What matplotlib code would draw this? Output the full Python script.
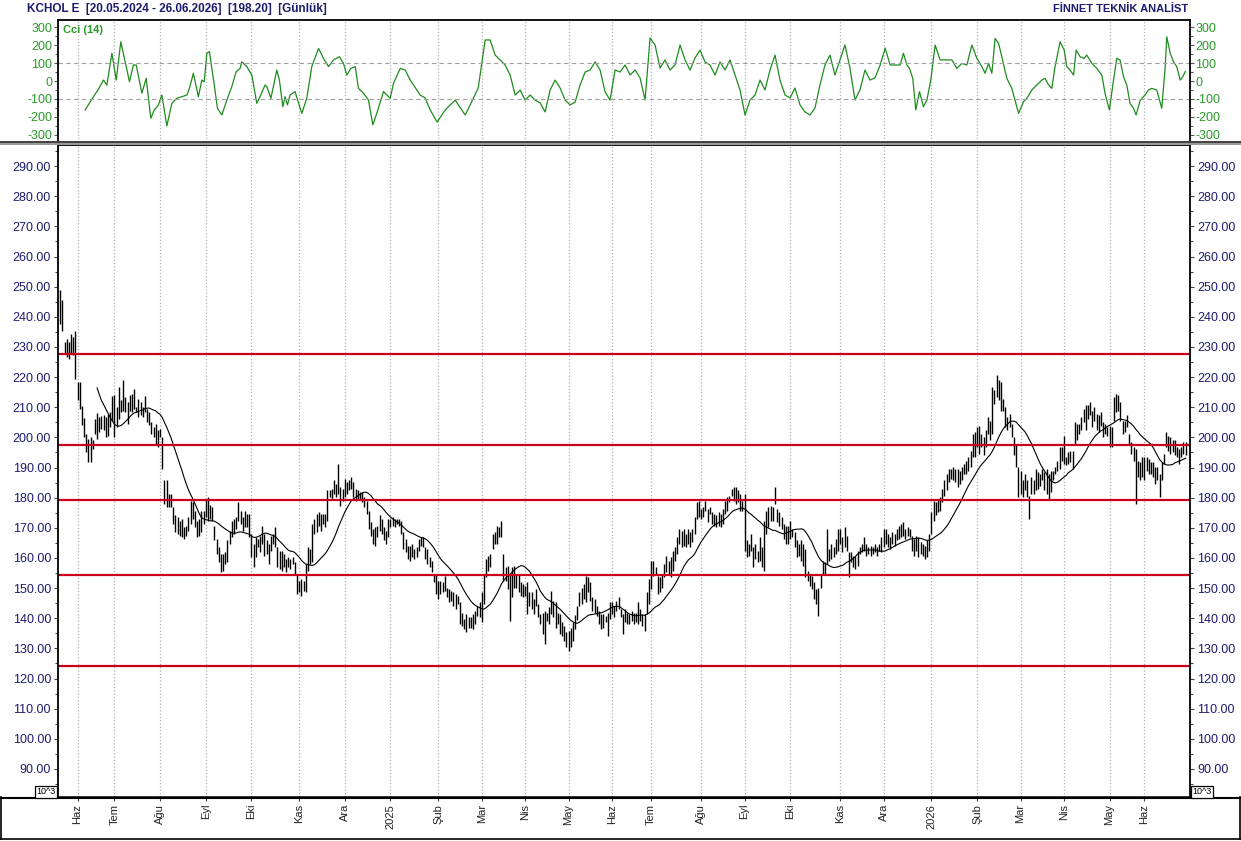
import numpy as np
import pandas as pd
import matplotlib.pyplot as plt
from matplotlib.patches import Rectangle
from matplotlib.lines import Line2D
from matplotlib.ticker import MultipleLocator

plt.rcParams['font.family'] = ['Liberation Sans', 'DejaVu Sans']
plt.rcParams['axes.unicode_minus'] = False

# daily high / low
high = [249.0, 245.5, 231.6, 232.7, 231.6, 234.4, 233.3, 235.2, 218.4, 218.4,
        210.3, 206.4, 201.2, 199.5, 200.1, 199.2, 206.2, 208.2, 206.7, 207.1,
        207.3, 206.7, 207.8, 208.4, 213.6, 213.9, 210.0, 216.7, 212.3, 218.9,
        213.4, 211.7, 213.9, 214.5, 216.1, 210.0, 212.8, 211.7, 210.0, 213.6,
        209.5, 208.4, 205.1, 203.4, 204.5, 202.3, 202.8, 200.1, 185.9, 185.9,
        181.3, 181.3, 176.8, 174.1, 173.7, 172.4, 172.9, 170.2, 170.7, 173.5,
        179.0, 178.5, 175.7, 172.4, 172.9, 175.7, 175.7, 179.6, 180.2, 177.7,
        176.8, 170.7, 166.3, 163.5, 161.3, 161.3, 161.9, 165.8, 169.1, 172.4,
        172.9, 173.5, 178.5, 175.7, 173.5, 175.7, 174.6, 174.6, 168.0, 164.6,
        166.9, 166.3, 167.4, 170.7, 168.0, 165.8, 164.6, 167.4, 168.0, 170.2,
        163.5, 162.4,
        162.4, 161.3, 159.7, 160.2, 159.7, 160.2, 158.6, 154.7, 152.5, 153.0,
        152.5, 158.0, 163.5, 163.0, 171.3, 172.9, 174.6, 175.2, 174.6, 174.6,
        174.6, 182.4, 182.4, 182.9, 185.7, 184.6, 191.2, 183.5, 182.9, 186.2,
        185.1, 185.7, 186.8, 185.1, 182.9, 182.4, 181.8, 181.8, 180.2, 179.0,
        175.7, 171.8, 169.6, 170.2, 170.7, 174.1, 172.9, 170.2, 169.1, 172.9,
        172.9, 173.5, 172.9, 172.9, 172.9, 172.4, 168.5, 166.3, 164.1, 164.1,
        164.6, 163.0, 163.5, 166.3, 166.9, 166.9, 163.5, 163.0, 160.2, 159.1,
        154.7, 154.7, 152.5, 152.5, 151.9, 154.1, 150.2, 149.7, 149.1, 148.6,
        148.0, 147.5, 145.3, 141.9, 139.7, 141.4, 140.3, 140.3, 141.4, 142.5,
        144.2, 145.3, 148.6, 154.7, 159.7, 160.8, 161.3, 168.0, 168.5, 170.7,
        170.2, 172.4, 161.3, 156.9,
        157.4, 154.7, 156.9, 157.4, 154.7, 154.7, 151.9, 151.4, 150.8, 151.9,
        148.6, 148.6, 146.4, 149.7, 144.7, 141.4, 141.9, 142.5, 141.9, 143.6,
        149.1, 145.8, 145.3, 141.9, 141.4, 138.6, 137.5, 135.3, 135.8, 136.9,
        138.6, 141.0, 144.0, 148.6, 150.2, 151.4, 154.1, 153.6, 151.9, 146.9,
        146.4, 144.2, 142.5, 141.4, 141.4, 140.8, 141.9, 145.3, 145.3, 144.2,
        145.8, 146.9, 143.1, 141.4, 143.1, 141.9, 141.4, 142.5, 141.9, 141.9,
        145.3, 143.1, 141.4, 141.4, 148.6, 153.0, 159.1, 159.1, 156.9, 154.1,
        153.6, 154.7, 158.0, 160.8, 159.1, 160.2, 162.4, 163.5, 166.9, 169.6,
        169.1, 169.6, 168.0, 169.6, 168.5, 169.6, 173.5, 178.5, 179.0, 176.3,
        176.8, 179.0, 176.3, 176.8, 175.2, 174.6, 174.1, 175.2, 174.6, 176.3,
        179.0, 180.2, 180.7, 182.9,
        183.5, 183.5, 182.4, 181.3, 179.0, 181.3, 165.8, 164.6, 168.0, 163.5,
        164.6, 162.4, 166.9, 163.5, 172.4, 175.7, 176.8, 177.4, 176.8, 183.5,
        176.3, 175.2, 173.5, 171.3, 170.7, 170.7, 172.4, 169.6, 168.5, 165.8,
        164.6, 165.8, 164.6, 163.0, 155.8, 154.7, 154.1, 151.9, 149.7, 150.2,
        154.7, 159.1, 158.6, 169.6, 163.0, 164.6, 163.5, 166.3, 169.6, 169.6,
        166.9, 170.2, 167.4, 161.9, 161.9, 160.8, 160.8, 162.4, 163.5, 164.6,
        166.9, 164.6, 163.5, 164.1, 163.5, 164.6, 163.5, 164.6, 166.9, 169.6,
        169.6, 168.0, 166.9, 168.5, 168.0, 169.6, 170.7, 171.3, 171.8, 169.6,
        170.2, 169.6, 167.4, 166.3, 167.4, 166.9, 165.2, 164.6, 164.1, 165.8,
        168.0, 175.2, 179.0, 178.5, 179.6, 180.2, 182.9, 185.7, 187.9, 189.6,
        189.6, 190.1, 189.6, 189.6,
        189.0, 190.1, 191.2, 192.3, 193.4, 195.6, 201.2, 201.7, 203.4, 203.9,
        201.2, 200.1, 202.3, 206.7, 205.6, 216.7, 215.6, 220.6, 218.9, 218.4,
        212.8, 210.0, 206.7, 207.8, 204.5, 200.1, 197.9, 190.1, 189.0, 185.7,
        187.9, 185.7, 180.7, 186.8, 185.7, 189.6, 188.5, 187.9, 189.6, 188.5,
        189.6, 187.9, 189.0, 189.0, 190.1, 192.3, 196.8, 196.8, 200.6, 193.4,
        195.1, 195.6, 195.6, 205.1, 204.5, 204.5, 206.7, 209.5, 210.6, 210.6,
        211.7, 208.9, 210.0, 207.8, 207.3, 208.4, 205.1, 204.5, 203.4, 203.9,
        203.4, 213.4, 214.5, 213.9, 211.7, 205.6, 205.6, 207.3, 201.2, 198.4,
        196.8, 196.2, 192.3, 191.8, 193.4, 193.4, 193.4, 192.8, 191.8, 191.8,
        190.1, 190.1, 187.9, 191.8, 194.5, 201.7, 200.6, 200.1, 199.0, 199.0,
        196.8, 196.2, 196.8, 198.4, 198.4]

low = [237.7, 235.3, 227.8, 226.7, 226.1, 227.8, 227.2, 219.5, 212.3, 209.5,
       204.0, 200.1, 195.1, 191.8, 191.8, 196.2, 201.2, 199.5, 201.7, 202.8,
       202.3, 200.1, 200.6, 203.4, 205.6, 200.1, 203.4, 206.2, 208.4, 208.9,
       208.4, 204.5, 208.9, 208.4, 209.5, 208.4, 206.7, 207.3, 206.7, 208.4,
       205.1, 204.0, 201.2, 200.1, 197.9, 196.8, 200.1, 189.6, 177.9, 176.8,
       177.0, 177.0, 171.3, 168.5, 168.0, 167.4, 166.9, 166.3, 167.4, 169.1,
       171.3, 172.9, 170.2, 166.9, 167.4, 168.5, 171.3, 173.5, 172.4, 172.9,
       172.4, 165.8, 161.3, 158.6, 155.2, 155.8, 158.0, 158.6, 164.6, 166.9,
       168.0, 169.6, 172.4, 171.3, 169.1, 170.2, 170.2, 166.9, 160.2, 156.9,
       160.2, 163.5, 161.9, 164.6, 160.8, 161.3, 158.0, 162.4, 164.6, 163.5,
       156.9, 156.3,
       155.8, 156.9, 155.2, 156.9, 156.3, 158.0, 154.7, 148.0, 148.6, 147.5,
       149.1, 148.6, 155.8, 158.0, 158.6, 168.0, 168.5, 170.7, 169.1, 171.3,
       170.2, 172.4, 180.2, 179.6, 181.3, 180.2, 181.3, 177.4, 179.0, 180.2,
       181.3, 182.4, 182.9, 180.2, 179.0, 179.6, 179.6, 178.5, 176.8, 174.6,
       169.6, 167.4, 164.6, 164.1, 166.9, 169.1, 168.0, 165.8, 164.6, 166.9,
       170.2, 170.7, 170.2, 171.3, 170.7, 168.0, 163.0, 161.9, 159.7, 159.1,
       160.2, 159.7, 160.2, 162.4, 164.1, 163.5, 159.7, 158.0, 156.9, 155.2,
       151.9, 148.0, 146.4, 148.0, 148.6, 149.1, 146.9, 145.3, 145.8, 144.2,
       143.1, 144.7, 138.1, 137.5, 136.4, 135.3, 136.9, 136.9, 136.4, 138.1,
       140.8, 140.3, 138.6, 144.7, 153.6, 155.8, 156.9, 163.0, 164.6, 164.6,
       166.9, 166.9, 152.5, 152.5,
       149.7, 139.2, 147.0, 150.2, 150.2, 148.6, 147.5, 147.0, 147.5, 141.4,
       144.2, 143.1, 141.4, 144.2, 140.3, 138.1, 134.7, 131.4, 139.2, 138.1,
       141.4, 140.3, 136.9, 138.1, 134.7, 134.2, 132.5, 130.3, 129.2, 130.3,
       132.5, 136.5, 139.5, 144.2, 144.7, 146.4, 145.3, 148.6, 145.8, 142.5,
       141.9, 140.8, 138.1, 136.4, 136.9, 138.6, 134.2, 139.7, 141.4, 140.3,
       142.5, 143.1, 140.3, 134.7, 138.6, 138.1, 138.1, 139.2, 138.1, 138.6,
       138.1, 139.2, 137.5, 135.8, 141.4, 144.7, 149.7, 154.1, 154.7, 148.0,
       148.6, 150.2, 153.6, 155.2, 154.7, 153.6, 155.8, 159.1, 161.3, 164.6,
       163.5, 164.1, 163.5, 164.6, 163.5, 165.2, 168.0, 172.9, 173.5, 172.9,
       173.5, 175.7, 171.8, 174.6, 171.3, 170.7, 170.2, 170.7, 170.2, 171.3,
       174.6, 175.7, 178.5, 180.7,
       179.0, 177.9, 178.5, 175.7, 175.7, 162.4, 160.2, 160.8, 162.4, 156.9,
       159.7, 158.6, 159.1, 156.9, 155.8, 168.0, 170.2, 172.4, 172.4, 177.9,
       171.8, 170.7, 169.6, 166.3, 164.6, 164.6, 166.3, 166.9, 163.5, 160.2,
       160.8, 159.1, 157.4, 153.6, 152.5, 150.8, 149.7, 146.4, 144.7, 140.8,
       150.2, 154.7, 154.7, 158.0, 159.1, 159.7, 160.2, 161.3, 162.4, 164.6,
       161.9, 163.5, 162.4, 153.6, 158.6, 156.9, 156.3, 157.4, 161.3, 161.9,
       162.4, 160.8, 161.3, 160.8, 161.3, 161.9, 160.8, 162.4, 161.9, 163.5,
       164.6, 163.5, 163.0, 164.6, 164.1, 165.8, 166.3, 166.9, 167.4, 166.3,
       167.4, 166.9, 162.4, 160.8, 162.4, 160.2, 161.3, 160.8, 159.7, 160.2,
       162.4, 168.0, 172.4, 174.1, 175.2, 175.7, 178.5, 180.7, 182.4, 185.1,
       186.2, 185.7, 185.1, 183.5,
       184.6, 185.7, 187.9, 187.9, 189.0, 190.1, 193.4, 193.4, 196.8, 194.5,
       196.8, 194.0, 196.8, 201.2, 199.0, 201.2, 211.2, 213.4, 212.3, 208.9,
       208.9, 203.4, 202.3, 203.4, 200.1, 194.0, 190.1, 180.2, 181.3, 180.2,
       182.4, 180.2, 172.9, 181.3, 181.3, 182.4, 182.9, 184.0, 185.7, 182.4,
       181.3, 179.6, 181.8, 185.7, 187.9, 189.0, 189.6, 192.3, 191.2, 190.7,
       191.2, 191.8, 189.6, 197.9, 199.0, 201.2, 202.3, 205.1, 202.3, 206.2,
       207.3, 203.4, 205.6, 202.3, 201.7, 203.9, 200.1, 201.2, 200.6, 196.8,
       196.8, 205.6, 208.4, 208.9, 205.6, 201.2, 201.7, 203.4, 197.4, 194.5,
       192.3, 177.9, 186.8, 185.7, 186.8, 185.7, 189.0, 187.9, 187.9, 186.8,
       184.6, 185.7, 180.2, 185.7, 191.2, 196.8, 195.6, 194.5, 195.1, 194.0,
       193.4, 191.2, 193.4, 194.5, 194.0]

# CCI(14) read at bar positions
cci_bar = [11.5, 15.3, 17.6, 19.9, 21.5, 23.8, 25.8, 27.9, 29.9, 31.9,
           33.7, 35.0, 37.6, 39.6, 41.7, 43.3, 45.2, 46.8, 49.1, 51.4,
           53.7, 56.0, 58.3, 59.5, 61.3, 63.6, 65.2, 66.3, 67.5, 68.7,
           70.6, 72.4, 74.4, 76.7, 79.0, 81.0, 82.8, 83.6, 85.9, 88.2,
           90.5, 92.0, 94.3, 95.1, 97.0, 99.7, 100.9, 102.5, 103.5, 104.6,
           105.8, 108.1, 111.2, 113.5, 115.8, 118.9, 121.2, 123.5, 125.8, 128.5,
           130.4, 131.9, 133.8, 135.8, 137.3, 139.6, 141.9, 143.9, 145.7, 148.8,
           151.9, 153.4, 156.5,
           158.8, 161.1, 165.7, 168.0, 170.3, 173.5, 177.2, 181.8, 186.4, 188.7,
           192.4, 195.6, 197.9, 200.2, 202.5, 204.8, 207.1, 209.4, 211.7, 214.0,
           216.3, 218.6, 220.9, 223.2, 225.5, 227.8, 230.1, 232.4, 234.7, 237.0,
           239.3, 241.6, 243.9, 246.2, 248.5, 250.8, 253.1, 255.4, 257.7, 260.0,
           262.3, 264.6, 266.9, 269.2, 271.5, 273.8, 276.1, 278.4, 280.7, 283.0,
           285.3, 287.6, 289.9, 292.2, 294.5, 296.8, 299.1, 301.4, 303.7, 306.0,
           308.3, 310.6, 312.9, 315.2, 317.5, 319.8, 322.1, 324.4, 326.7, 329.0,
           331.3, 333.6, 335.9, 338.2, 340.5, 342.8, 345.1, 347.4, 349.7, 352.0,
           354.3, 356.6, 358.9, 361.2, 363.5, 365.8, 368.1, 370.4, 372.7, 375.0,
           377.4, 379.7, 382.0,
           386.6, 388.1, 389.7, 390.9, 392.4, 393.8, 395.5, 397.3, 398.9, 400.7,
           402.7, 405.0, 407.3, 410.4, 412.7, 415.0, 417.3, 419.6, 421.9, 424.2,
           425.7, 427.3, 428.8, 430.3, 431.9, 433.4, 435.7, 438.0, 441.1, 443.4,
           444.9, 447.2, 449.5, 451.8, 453.3, 454.9, 456.4, 457.9, 460.2, 462.1,
           463.3, 464.8, 466.4, 467.6, 469.4, 471.3, 472.5, 474.8, 477.1, 479.4,
           480.9, 482.9, 484.8, 486.3, 487.8, 489.4, 490.9, 492.4, 494.0, 495.2,
           497.1, 499.3, 500.9, 502.4, 504.7, 507.0, 508.6, 509.3, 510.9, 512.4,
           513.9, 515.5, 516.7, 517.8]
cci_val = [-161, -87, -46, 5, -22, 154, 5, 218, 107, -4,
           89, 89, -68, 15, -207, -161, -133, -78, -250, -124,
           -96, -87, -78, -41, 43, -87, 5, -4, 154, 163,
           5, -152, -189, -106, -31, 52, 70, 107, 80, 33,
           -124, -87, -22, -31, -96, 61, 5, -143, -87, -133,
           -78, -59, -180, -96, 80, 181, 126, 80, 117, 135,
           98, 33, 70, 80, -41, -68, -106, -244, -180, -59,
           -96, -13, 70,
           61, 5, -78, -94, -161, -228, -161, -106, -189, -133,
           -39, 228, 228, 144, 117, 89, 33, -78, -50, -106,
           -78, -106, -122, -172, -50, 5, -39, -106, -133, -117,
           -22, 50, 61, 106, 61, -61, -106, 61, 50, 89,
           33, 61, 17, -106, 239, 200, 72, 117, 61, 89,
           200, 117, 61, 128, 172, 106, 89, 33, 106, 61,
           117, 33, -50, -189, -106, -78, 5, -50, 61, 144,
           5, -78, -94, -39, -133, -172, -189, -150, -22, 89,
           144, 33, 117, 200, 72, -106, -50, 61, 5, 17,
           89, 183, 89,
           89, 154, 89, 70, 15, -161, -59, -143, -106, 5,
           200, 117, 117, 117, 70, 98, 89, 200, 126, 80,
           43, 98, 43, 237, 209, 135, 15, -41, -180, -115,
           -96, -50, -22, 5, 15, -22, -41, 80, 218, 172,
           80, 61, 33, 172, 135, 126, 144, 98, 70, 33,
           -68, -161, 5, 126, 117, 24, -22, -124, -152, -189,
           -106, -78, -50, -41, -50, -152, 80, 246, 154, 107,
           80, 5, 24, 52]

# first bar of each month
month_bar = [8, 25, 46, 67, 88, 110, 131, 152, 174, 194, 214, 234, 254,
             272, 295, 315, 336, 359, 379, 401, 422, 442, 462, 483, 499]
month_lbl = ['Haz', 'Tem', 'Ağu', 'Eyl', 'Eki', 'Kas', 'Ara', '2025', 'Şub',
             'Mar', 'Nis', 'May', 'Haz', 'Tem', 'Ağu', 'Eyl', 'Eki', 'Kas',
             'Ara', '2026', 'Şub', 'Mar', 'Nis', 'May', 'Haz']

levels = [227.7, 197.4, 179.2, 154.2, 124.3]

navy = '#1c1c6e'
green = '#2a9a2a'

high = np.array(high)
low = np.array(low)
x = np.arange(len(high))
ma = pd.Series((high + low) / 2).rolling(18).mean()

W, H = 1241, 841
fig = plt.figure(figsize=(W / 100, H / 100), dpi=100)
fig.patch.set_facecolor('white')

ax_c = fig.add_axes([58 / W, 1 - 142 / H, 1132 / W, 122 / H])
ax = fig.add_axes([58 / W, 1 - 797 / H, 1132 / W, 652 / H])

# --- CCI panel
ax_c.plot(cci_bar, cci_val, color='#1e8c1e', lw=0.9)
ax_c.axhline(100, color='#a0a0a0', ls=(0, (4, 3)), lw=0.8)
ax_c.axhline(-100, color='#a0a0a0', ls=(0, (4, 3)), lw=0.8)
ax_c.set_ylim(-339, 339)
ax_c.set_xlim(-1, 520)
ax_c.set_yticks([-300, -200, -100, 0, 100, 200, 300])
ax_c.yaxis.set_minor_locator(MultipleLocator(50))
ax_c.set_xticks(month_bar)
ax_c.tick_params(axis='x', length=0, labelbottom=False)
ax_c.grid(axis='x', color='#b0b0b0', ls=':', lw=0.9)
ax_c.tick_params(axis='y', which='both', left=True, right=True, labelleft=True,
                 labelright=True, labelsize=9, labelcolor=green, color='#555',
                 length=3, width=0.8, pad=1)
ax_c.tick_params(axis='y', which='minor', length=2)
ax_c.text(0.004, 0.955, 'Cci (14)', transform=ax_c.transAxes, color=green,
          fontsize=8, fontweight='bold', va='top', ha='left')
for s in ax_c.spines.values():
    s.set_linewidth(1.3)

# --- price panel
ax.vlines(x, low, high, color='black', lw=1.0)
ax.plot(x, ma, color='black', lw=0.8)
for lv in levels:
    ax.axhline(lv, color='#c8001e', lw=1.6)
ax.set_ylim(80.7, 297)
ax.set_xlim(-1, 520)
ax.set_yticks(np.arange(90, 291, 10))
ax.set_yticklabels(['%.2f' % v for v in np.arange(90, 291, 10)])
ax.yaxis.set_minor_locator(MultipleLocator(5))
ax.tick_params(axis='y', which='both', left=True, right=True, labelleft=True,
               labelright=True, labelsize=9, labelcolor=navy, color='#444',
               length=3, width=0.8, pad=2)
ax.tick_params(axis='y', which='minor', length=2)
ax.set_xticks(month_bar)
ax.set_xticklabels(month_lbl, rotation=90, fontsize=8, color='#222')
ax.tick_params(axis='x', length=3, pad=2, color='#444')
ax.grid(axis='x', color='#b0b0b0', ls=':', lw=0.9)
for s in ax.spines.values():
    s.set_linewidth(1.3)
ax.spines['bottom'].set_linewidth(1.8)

# --- frame pieces drawn in figure pixels
def fx(px):
    return px / W

def fy(py):
    return 1 - py / H

fig.add_artist(Rectangle((fx(0), fy(145)), 1, (145 - 141) / H,
                         transform=fig.transFigure, fc='#9a9a9a', ec='none'))
fig.add_artist(Line2D([0, 1], [fy(142), fy(142)], transform=fig.transFigure,
                      color='#333333', lw=1.2))
fig.add_artist(Line2D([0, 1], [fy(797.5), fy(797.5)], transform=fig.transFigure,
                      color='black', lw=1.5))
fig.add_artist(Line2D([fx(1), fx(1)], [fy(797), fy(839)], transform=fig.transFigure,
                      color='black', lw=1.2))
fig.add_artist(Line2D([fx(1239.5), fx(1239.5)], [fy(797), fy(839)],
                      transform=fig.transFigure, color='black', lw=1.2))
fig.add_artist(Line2D([fx(1), fx(1239.5)], [fy(839), fy(839)],
                      transform=fig.transFigure, color='black', lw=1.2))

box = dict(boxstyle='square,pad=0.2', fc='white', ec='black', lw=0.9)
fig.text(fx(46), fy(792), '10^3', fontsize=6.5, ha='center', va='center', bbox=box)
fig.text(fx(1202), fy(792), '10^3', fontsize=6.5, ha='center', va='center', bbox=box)

fig.text(fx(27), fy(9), 'KCHOL E  [20.05.2024 - 26.06.2026]  [198.20]  [Günlük]',
         color=navy, fontsize=8.5, fontweight='bold', ha='left', va='center')
fig.text(fx(1188), fy(9), 'FİNNET TEKNİK ANALİST', color=navy, fontsize=8,
         fontweight='bold', ha='right', va='center')

fig.savefig('out.png', dpi=100, facecolor='white')
